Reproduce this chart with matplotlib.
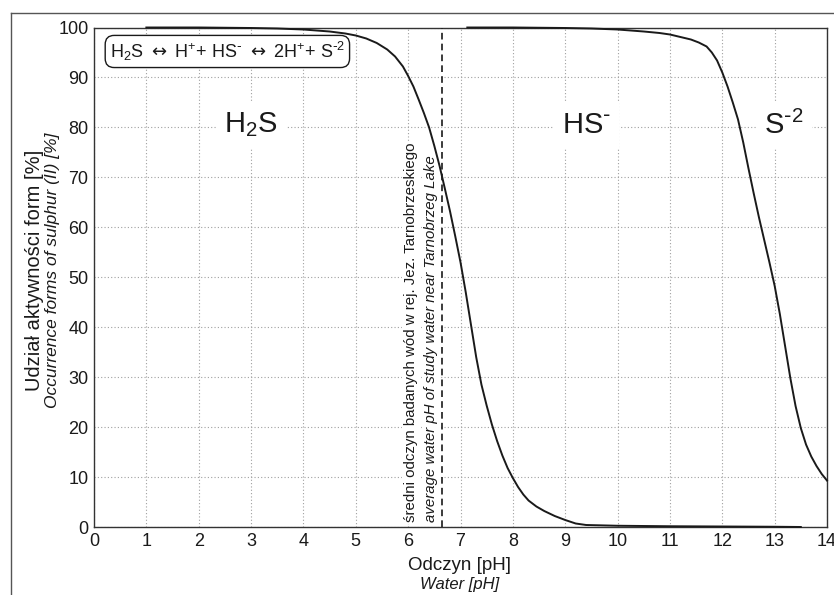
import matplotlib
matplotlib.use("Agg")
import matplotlib.pyplot as plt
from matplotlib.lines import Line2D

plt.rcParams['font.family'] = ['Liberation Sans', 'DejaVu Sans']
plt.rcParams['mathtext.fontset'] = 'custom'
plt.rcParams['mathtext.rm'] = 'DejaVu Sans'
plt.rcParams['mathtext.default'] = 'regular'

# H2S share [%] vs pH
ph_h2s = [1.0, 2.0, 3.0, 3.5, 4.0, 4.5, 4.8, 5.0, 5.2, 5.4, 5.6, 5.75, 5.9, 6.0, 6.1, 6.2,
          6.3, 6.4, 6.5, 6.6, 6.7, 6.8, 6.9, 7.0, 7.1, 7.2, 7.3, 7.4, 7.5, 7.6, 7.7, 7.8,
          7.9, 8.0, 8.1, 8.2, 8.3, 8.45, 8.6, 8.8, 9.0, 9.2, 9.4, 10.0, 11.0, 12.0, 13.0, 13.5]
h2s = [100, 100, 99.9, 99.8, 99.6, 99.2, 98.8, 98.4, 97.8, 96.9, 95.6, 94.2, 92.2, 90.3, 88.2, 85.6,
       82.9, 80.0, 76.3, 72.3, 67.8, 63.2, 58.2, 53.0, 47.0, 40.5, 34.0, 28.5, 24.3, 20.5, 17.2, 14.3,
       11.8, 9.8, 8.0, 6.5, 5.3, 4.1, 3.2, 2.2, 1.4, 0.7, 0.4, 0.25, 0.15, 0.1, 0.05, 0]

# HS- share [%] vs pH
ph_hs = [7.13, 8.0, 9.0, 9.5, 10.0, 10.5, 10.8, 11.0, 11.2, 11.4, 11.55, 11.7, 11.8, 11.9,
         12.0, 12.1, 12.2, 12.3, 12.4, 12.5, 12.6, 12.7, 12.8, 12.9, 13.0, 13.1, 13.2, 13.3,
         13.4, 13.5, 13.6, 13.7, 13.8, 13.9, 14.0]
hs = [100, 100, 99.9, 99.8, 99.6, 99.2, 98.9, 98.6, 98.1, 97.6, 97.0, 96.2, 95.0, 93.4,
      91.0, 88.2, 85.0, 81.6, 77.0, 71.8, 66.8, 62.0, 57.5, 53.0, 48.3, 42.6, 36.2, 29.8,
      24.2, 19.8, 16.5, 14.1, 12.2, 10.6, 9.3]

ph_lake = 6.65
x_ticks = list(range(0, 15))
y_ticks = list(range(0, 101, 10))

ink = '#1a1a1a'

fig = plt.figure(figsize=(8.34, 5.95), dpi=100)
ax = fig.add_axes([94/834, 1-527/595, (827-94)/834, (527-27.5)/595])

ax.set_xlim(0, 14)
ax.set_ylim(0, 100)
ax.set_xticks(x_ticks)
ax.set_yticks(y_ticks)
ax.tick_params(length=0, pad=4, labelsize=13, colors=ink)
ax.grid(True, color='#a0a0a0', lw=0.8, linestyle=(0, (1, 2)))
ax.set_axisbelow(True)
for s in ax.spines.values():
    s.set_color('#333333')
    s.set_linewidth(1.0)

ax.plot(ph_h2s, h2s, color=ink, lw=1.4, clip_on=False, zorder=5)
ax.plot(ph_hs, hs, color=ink, lw=1.4, clip_on=False, zorder=5)
ax.axvline(ph_lake, color=ink, lw=1.2, ls=(0, (4, 2.5)), zorder=4)

white = dict(boxstyle='square,pad=0.3', fc='white', ec='none')
minus = r'\text{-}'
ax.text(3.0, 80.5, 'H$_2$S', fontsize=21, ha='center', va='center', color=ink, bbox=white, zorder=3)
ax.text(9.4, 80.5, 'HS$^{' + minus + '}$', fontsize=21, ha='center', va='center', color=ink,
        bbox=white, zorder=3)
ax.text(13.18, 80.5, 'S$^{' + minus + '2}$', fontsize=21, ha='center', va='center', color=ink,
        bbox=white, zorder=3)

arrow = r'$\mathrm{\leftrightarrow}$'
eq = ('H$_2$S ' + arrow + ' H$^{+}$+ HS$^{' + minus + '}$ ' + arrow +
      ' 2H$^{+}$+ S$^{' + minus + '2}$')
ax.text(0.3, 95.2, eq, fontsize=13, ha='left', va='center', color=ink, zorder=6,
        bbox=dict(boxstyle='round,pad=0.25,rounding_size=0.5', fc='white', ec=ink, lw=1.0))

tb = dict(boxstyle='square,pad=0.1', fc='white', ec='none')
ax.text(6.05, 1.0, 'średni odczyn badanych wód w rej. Jez. Tarnobrzeskiego', rotation=90,
        fontsize=10.8, ha='center', va='bottom', color=ink, bbox=tb, zorder=3)
ax.text(6.43, 1.0, 'average water pH of study water near Tarnobrzeg Lake', rotation=90,
        fontsize=10.8, style='italic', ha='center', va='bottom', color=ink, bbox=tb, zorder=3)

fig.text(35/834, 1-270/595, 'Udział aktywności form [%]', rotation=90, fontsize=14.5,
         ha='center', va='center', color=ink)
fig.text(53/834, 1-270/595, 'Occurrence forms of sulphur (II) [%]', rotation=90, fontsize=12.5,
         style='italic', ha='center', va='center', color=ink)
fig.text(460/834, 1-565/595, 'Odczyn [pH]', fontsize=13.5, ha='center', va='center', color=ink)
fig.text(460/834, 1-584/595, 'Water [pH]', fontsize=12, style='italic', ha='center', va='center', color=ink)

# outer frame lines of the page
fig.add_artist(Line2D([10.7/834, 1.0], [1-12.7/595, 1-12.7/595], color='#555555', lw=1.0))
fig.add_artist(Line2D([10.7/834, 10.7/834], [0.0, 1-12.7/595], color='#555555', lw=1.0))

fig.savefig('out.png', dpi=100)
